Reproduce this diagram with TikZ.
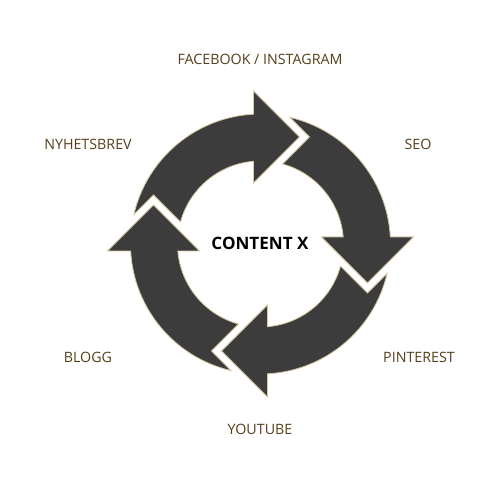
\documentclass[tikz,border=0pt]{standalone}
\usepackage{fontspec}
\setmainfont{Open Sans}
\definecolor{ringfill}{RGB}{60,60,60}
\definecolor{ringedge}{RGB}{214,200,160}
\definecolor{labelcol}{RGB}{85,62,25}
\begin{document}
\begin{tikzpicture}[x=0.75pt,y=0.75pt,
  arrowshape/.style={fill=ringfill, draw=ringedge, line width=0.6pt, line join=miter},
  lbl/.style={text=labelcol, font=\fontsize{10.7}{12}\selectfont, inner sep=0pt},
  centerlbl/.style={text=black, font=\fontsize{12.8}{14}\selectfont\bfseries, inner sep=0pt}
]
\useasboundingbox (0,0) rectangle (504,495);
\foreach \k in {0,1,2,3}{
  \begin{scope}[shift={(260.5,251)}, rotate=-90*\k]
    \filldraw[arrowshape] (166.9:130) arc[start angle=166.9, end angle=93.09, radius=130]
      -- (-7,153) -- (39,107) -- (-7,61) -- (94.84:83)
      arc[start angle=94.84, end angle=164.6, radius=83]
      -- (-107,49) -- cycle;
  \end{scope}
}
\node[lbl] (fb) at (260,436) {FACEBOOK / INSTAGRAM};
\node[lbl] (nyh) at (88,351) {NYHETSBREV};
\node[lbl] (seo) at (418,351) {SEO};
\node[lbl] (blogg) at (88,138) {BLOGG};
\node[lbl] (pin) at (419,138) {PINTEREST};
\node[lbl] (yt) at (260,66) {YOUTUBE};
\node[centerlbl] (cx) at (260,252) {CONTENT X};
\end{tikzpicture}
\end{document}
